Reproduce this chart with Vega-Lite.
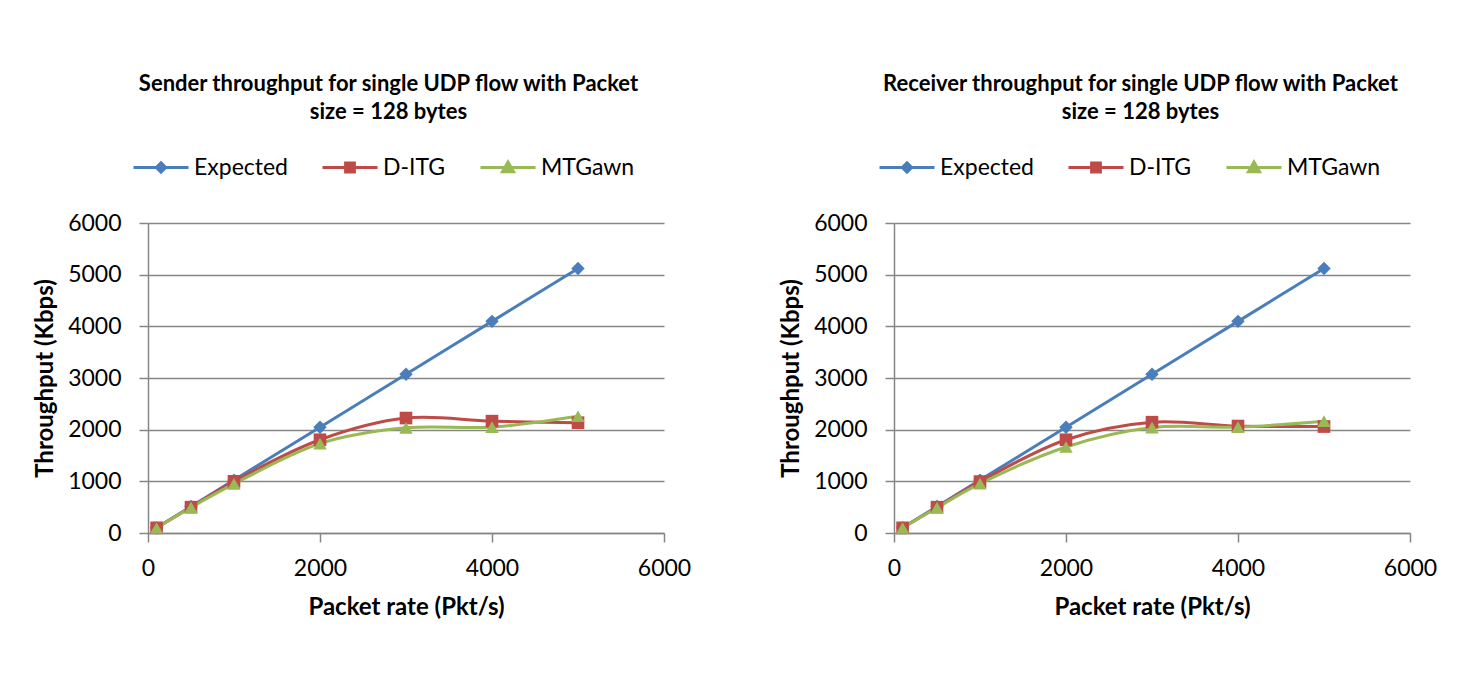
{
  "$schema": "https://vega.github.io/schema/vega-lite/v6.json",
  "background": "white",
  "padding": {"left": 33, "top": 72, "right": 5, "bottom": 5},
  "datasets": {
    "sender": [
      {"rate": 100, "series": "Expected", "kbps": 102.4},
      {"rate": 500, "series": "Expected", "kbps": 512},
      {"rate": 1000, "series": "Expected", "kbps": 1024},
      {"rate": 2000, "series": "Expected", "kbps": 2048},
      {"rate": 3000, "series": "Expected", "kbps": 3072},
      {"rate": 4000, "series": "Expected", "kbps": 4096},
      {"rate": 5000, "series": "Expected", "kbps": 5120},
      {"rate": 100, "series": "D-ITG", "kbps": 100},
      {"rate": 500, "series": "D-ITG", "kbps": 500},
      {"rate": 1000, "series": "D-ITG", "kbps": 1000},
      {"rate": 2000, "series": "D-ITG", "kbps": 1805},
      {"rate": 3000, "series": "D-ITG", "kbps": 2225},
      {"rate": 4000, "series": "D-ITG", "kbps": 2165},
      {"rate": 5000, "series": "D-ITG", "kbps": 2135},
      {"rate": 100, "series": "MTGawn", "kbps": 98},
      {"rate": 500, "series": "MTGawn", "kbps": 495},
      {"rate": 1000, "series": "MTGawn", "kbps": 950},
      {"rate": 2000, "series": "MTGawn", "kbps": 1730},
      {"rate": 3000, "series": "MTGawn", "kbps": 2035},
      {"rate": 4000, "series": "MTGawn", "kbps": 2050},
      {"rate": 5000, "series": "MTGawn", "kbps": 2260}
    ],
    "receiver": [
      {"rate": 100, "series": "Expected", "kbps": 102.4},
      {"rate": 500, "series": "Expected", "kbps": 512},
      {"rate": 1000, "series": "Expected", "kbps": 1024},
      {"rate": 2000, "series": "Expected", "kbps": 2048},
      {"rate": 3000, "series": "Expected", "kbps": 3072},
      {"rate": 4000, "series": "Expected", "kbps": 4096},
      {"rate": 5000, "series": "Expected", "kbps": 5120},
      {"rate": 100, "series": "D-ITG", "kbps": 100},
      {"rate": 500, "series": "D-ITG", "kbps": 500},
      {"rate": 1000, "series": "D-ITG", "kbps": 995},
      {"rate": 2000, "series": "D-ITG", "kbps": 1805},
      {"rate": 3000, "series": "D-ITG", "kbps": 2145},
      {"rate": 4000, "series": "D-ITG", "kbps": 2070},
      {"rate": 5000, "series": "D-ITG", "kbps": 2060},
      {"rate": 100, "series": "MTGawn", "kbps": 98},
      {"rate": 500, "series": "MTGawn", "kbps": 490},
      {"rate": 1000, "series": "MTGawn", "kbps": 955},
      {"rate": 2000, "series": "MTGawn", "kbps": 1665},
      {"rate": 3000, "series": "MTGawn", "kbps": 2040},
      {"rate": 4000, "series": "MTGawn", "kbps": 2050},
      {"rate": 5000, "series": "MTGawn", "kbps": 2165}
    ]
  },
  "bounds": "flush",
  "spacing": 230,
  "resolve": {"scale": {"color": "independent"}, "legend": {"color": "independent"}},
  "config": {
    "font": "Lato",
    "view": {"stroke": null},
    "axis": {
      "domainColor": "#868686", "domainWidth": 1.5,
      "tickColor": "#868686", "tickWidth": 1.5, "tickSize": 9,
      "gridColor": "#868686", "gridWidth": 1.5,
      "labelFont": "Lato", "labelFontSize": 23, "labelColor": "#000",
      "labelFlush": false, "labelOverlap": false, "format": "d",
      "titleFont": "Lato", "titleFontSize": 24, "titleFontWeight": "bold", "titleColor": "#000"
    },
    "axisX": {"labelPadding": 15, "titlePadding": 15, "grid": false},
    "axisY": {"labelPadding": 18, "titlePadding": 10, "grid": true},
    "title": {"font": "Lato", "fontSize": 22, "fontWeight": "bold", "color": "#000", "anchor": "middle", "offset": 15, "lineHeight": 28},
    "legend": {
      "orient": "none", "legendX": -16, "legendY": -84.5, "direction": "horizontal",
      "title": null, "padding": 0, "symbolSize": 3025, "symbolStrokeWidth": 3,
      "labelFont": "Lato", "labelFontSize": 23, "labelColor": "#000", "labelOffset": 4,
      "columnPadding": 28, "labelLimit": 300
    }
  },
  "hconcat": [
    {
      "width": 516, "height": 310,
      "data": {"name": "sender"},
      "title": {"text": ["Sender throughput for single UDP flow with Packet", "size = 128 bytes"], "dx": -17.5},
      "encoding": {
        "x": {"field": "rate", "type": "quantitative", "scale": {"domain": [0, 6000], "nice": false}, "axis": {"values": [0, 2000, 4000, 6000], "title": "Packet rate (Pkt/s)"}},
        "y": {"field": "kbps", "type": "quantitative", "scale": {"domain": [0, 6000], "nice": false}, "axis": {"values": [0, 1000, 2000, 3000, 4000, 5000, 6000], "title": "Throughput (Kbps)"}},
        "color": {
          "field": "series", "type": "nominal",
          "scale": {"domain": ["Expected", "D-ITG", "MTGawn"], "range": ["#4A7EBB", "#BE4B48", "#98B954"]},
          "legend": {
            "symbolType": "M-1,0L1,0M0,-0.17L0.17,0L0,0.17L-0.17,0Z",
            "encode": {"symbols": {"update": {
              "shape": {"signal": "datum.value === 'Expected' ? 'M-1,0L1,0M0,-0.17L0.17,0L0,0.17L-0.17,0Z' : datum.value === 'D-ITG' ? 'M-1,0L1,0M-0.16,-0.16L0.16,-0.16L0.16,0.16L-0.16,0.16Z' : 'M-1,0L1,0M0,-0.2L0.2,0.15L-0.2,0.15Z'"},
              "fill": {"signal": "datum.value === 'Expected' ? '#4A7EBB' : datum.value === 'D-ITG' ? '#BE4B48' : '#98B954'"},
              "stroke": {"signal": "datum.value === 'Expected' ? '#4A7EBB' : datum.value === 'D-ITG' ? '#BE4B48' : '#98B954'"}
            }}}
          }
        }
      },
      "layer": [
        {"mark": {"type": "line", "interpolate": "catmull-rom", "strokeWidth": 3}},
        {"transform": [{"filter": "datum.series === 'Expected'"}], "mark": {"type": "point", "shape": "diamond", "filled": true, "opacity": 1, "size": 180}},
        {"transform": [{"filter": "datum.series === 'D-ITG'"}], "mark": {"type": "point", "shape": "square", "filled": true, "opacity": 1, "size": 160}},
        {"transform": [{"filter": "datum.series === 'MTGawn'"}], "mark": {"type": "point", "shape": "triangle-up", "filled": true, "opacity": 1, "size": 180}}
      ]
    },
    {
      "width": 516, "height": 310,
      "data": {"name": "receiver"},
      "title": {"text": ["Receiver throughput for single UDP flow with Packet", "size = 128 bytes"], "dx": -11.5},
      "encoding": {
        "x": {"field": "rate", "type": "quantitative", "scale": {"domain": [0, 6000], "nice": false}, "axis": {"values": [0, 2000, 4000, 6000], "title": "Packet rate (Pkt/s)"}},
        "y": {"field": "kbps", "type": "quantitative", "scale": {"domain": [0, 6000], "nice": false}, "axis": {"values": [0, 1000, 2000, 3000, 4000, 5000, 6000], "title": "Throughput (Kbps)"}},
        "color": {
          "field": "series", "type": "nominal",
          "scale": {"domain": ["Expected", "D-ITG", "MTGawn"], "range": ["#4A7EBB", "#BE4B48", "#98B954"]},
          "legend": {
            "symbolType": "M-1,0L1,0M0,-0.17L0.17,0L0,0.17L-0.17,0Z",
            "encode": {"symbols": {"update": {
              "shape": {"signal": "datum.value === 'Expected' ? 'M-1,0L1,0M0,-0.17L0.17,0L0,0.17L-0.17,0Z' : datum.value === 'D-ITG' ? 'M-1,0L1,0M-0.16,-0.16L0.16,-0.16L0.16,0.16L-0.16,0.16Z' : 'M-1,0L1,0M0,-0.2L0.2,0.15L-0.2,0.15Z'"},
              "fill": {"signal": "datum.value === 'Expected' ? '#4A7EBB' : datum.value === 'D-ITG' ? '#BE4B48' : '#98B954'"},
              "stroke": {"signal": "datum.value === 'Expected' ? '#4A7EBB' : datum.value === 'D-ITG' ? '#BE4B48' : '#98B954'"}
            }}}
          }
        }
      },
      "layer": [
        {"mark": {"type": "line", "interpolate": "catmull-rom", "strokeWidth": 3}},
        {"transform": [{"filter": "datum.series === 'Expected'"}], "mark": {"type": "point", "shape": "diamond", "filled": true, "opacity": 1, "size": 180}},
        {"transform": [{"filter": "datum.series === 'D-ITG'"}], "mark": {"type": "point", "shape": "square", "filled": true, "opacity": 1, "size": 160}},
        {"transform": [{"filter": "datum.series === 'MTGawn'"}], "mark": {"type": "point", "shape": "triangle-up", "filled": true, "opacity": 1, "size": 180}}
      ]
    }
  ]
}
